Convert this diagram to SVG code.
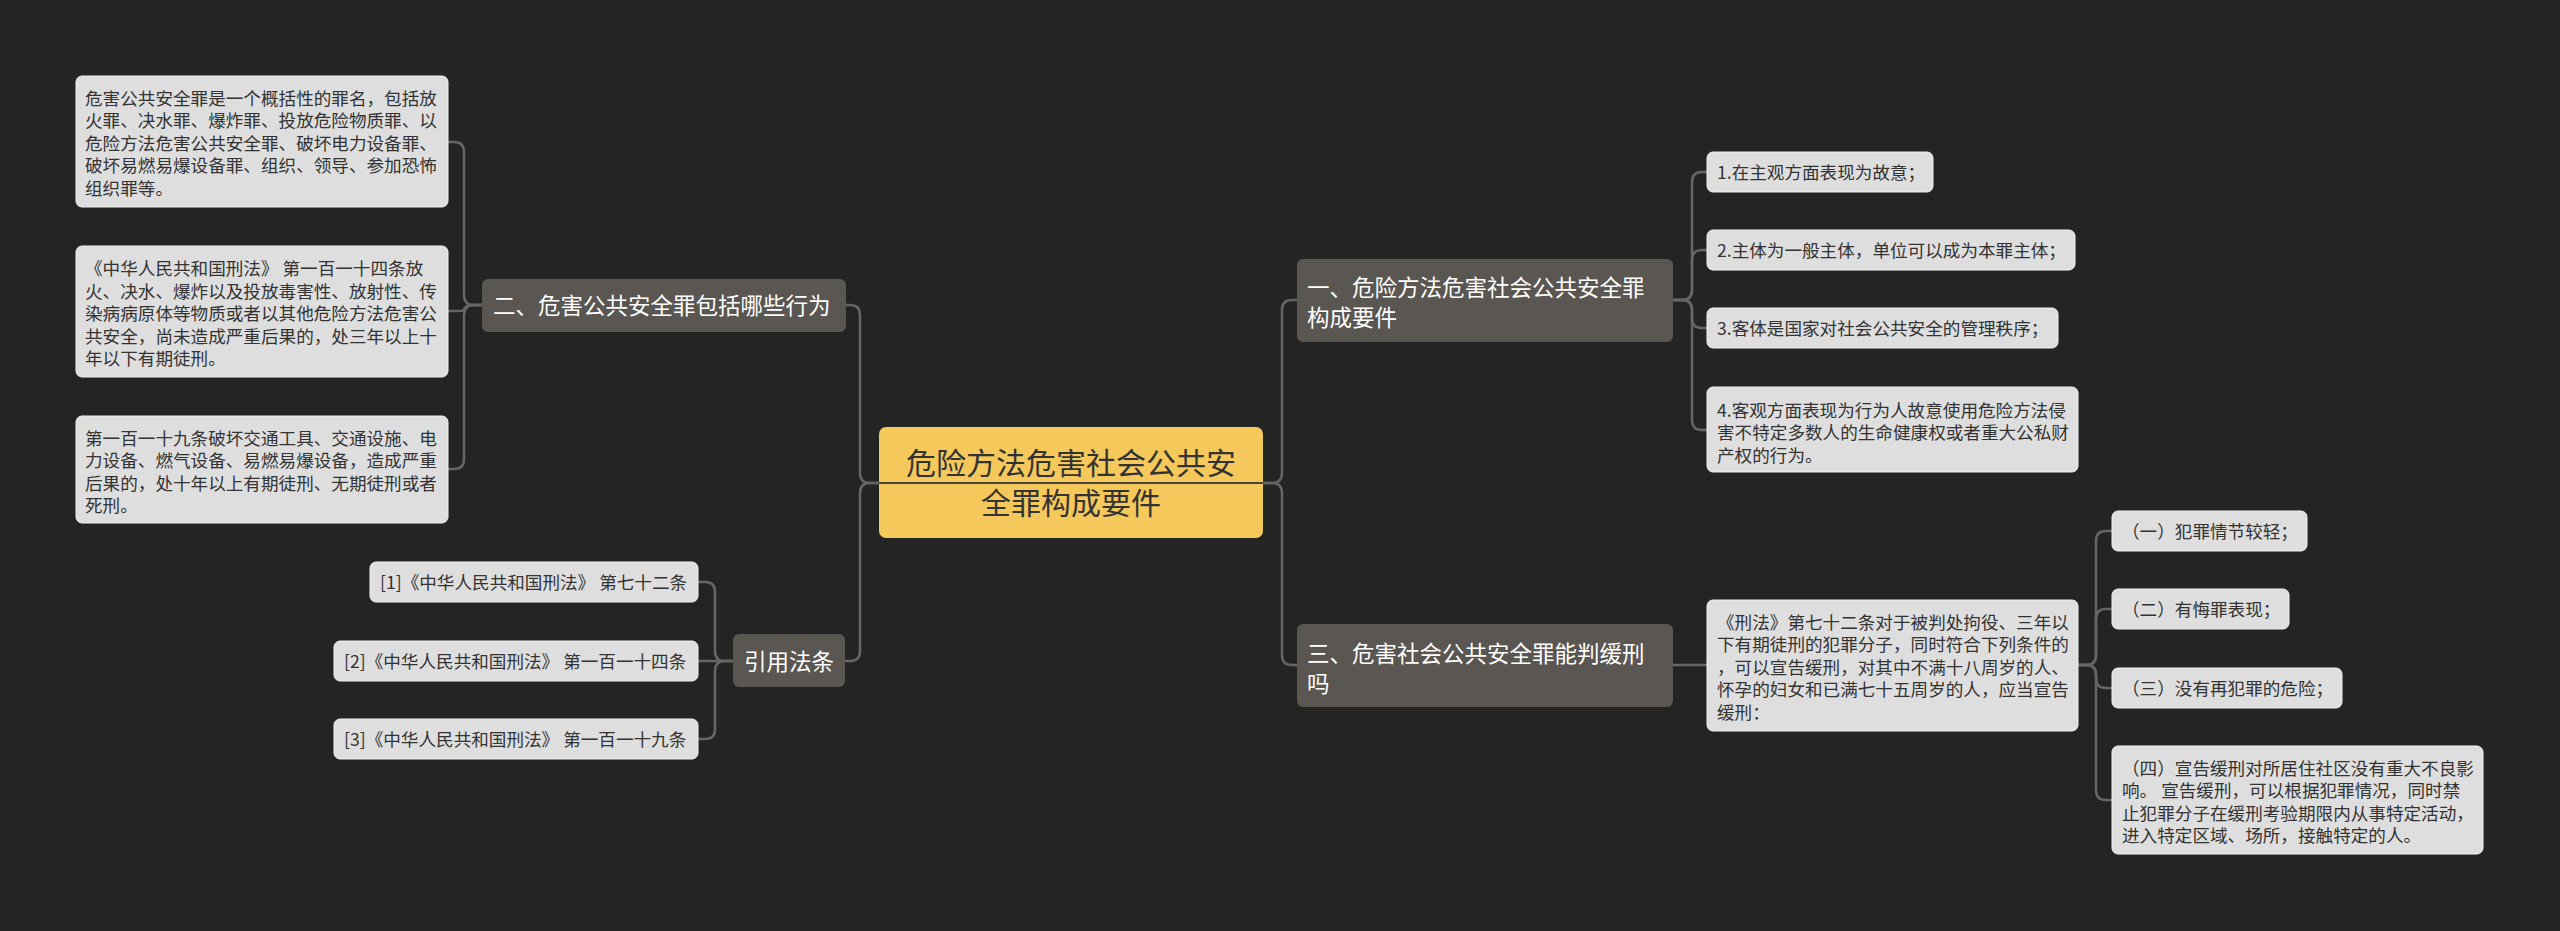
<svg xmlns="http://www.w3.org/2000/svg" width="2560" height="931" viewBox="0 0 2560 931">
<style>
.bg{fill:#242424}
.leaf rect{fill:#dedede;stroke:#f0f0f0;stroke-width:1}
.leaf text{font-family:"Noto Sans CJK SC","Noto Sans",sans-serif;font-size:17.6px;fill:#333333}
.branch rect{fill:#5a5652}
.branch text{font-family:"Noto Sans CJK SC","Noto Sans",sans-serif;font-size:22.5px;fill:#ffffff}
.root rect{fill:#f5c85b}
.root text{font-family:"Noto Sans CJK SC","Noto Sans",sans-serif;font-size:30px;fill:#333333;text-anchor:middle}
.conn path{fill:none;stroke:#666666;stroke-width:2.5}
</style>
<rect class="bg" x="0" y="0" width="2560" height="931"/>

<g id="connectors" class="conn">
  <!-- root to left branches -->
  <path d="M879,483 H870 Q860,483 860,473 V315 Q860,305 850,305 H846"/>
  <path d="M879,483 H870 Q860,483 860,493 V651 Q860,661 850,661 H845"/>
  <!-- root to right branches -->
  <path d="M1263,483 H1272 Q1282,483 1282,473 V310 Q1282,300 1292,300 H1297"/>
  <path d="M1263,483 H1272 Q1282,483 1282,493 V655 Q1282,665 1292,665 H1297"/>
  <!-- 二 to leaves -->
  <path d="M482,305 H474 Q464,305 464,295 V152 Q464,142 454,142 H448"/>
  <path d="M482,305 H474 Q464,305 464,310 Q464,311 458,311 H448"/>
  <path d="M482,305 H474 Q464,305 464,315 V459 Q464,469 454,469 H448"/>
  <!-- 引用法条 to leaves -->
  <path d="M733,661 H725 Q715,661 715,651 V592 Q715,582 705,582 H698"/>
  <path d="M733,661 H698"/>
  <path d="M733,661 H725 Q715,661 715,671 V729 Q715,739 705,739 H698"/>
  <!-- 一 to leaves -->
  <path d="M1673,300 H1682 Q1692,300 1692,290 V182 Q1692,172 1702,172 H1707"/>
  <path d="M1673,300 H1682 Q1692,300 1692,290 V260 Q1692,250 1702,250 H1707"/>
  <path d="M1673,300 H1682 Q1692,300 1692,310 V318 Q1692,328 1702,328 H1707"/>
  <path d="M1673,300 H1682 Q1692,300 1692,310 V420 Q1692,430 1702,430 H1707"/>
  <!-- 三 to leaf -->
  <path d="M1673,665 H1707"/>
  <!-- 刑法 leaf to sub leaves -->
  <path d="M2078,665 H2086 Q2096,665 2096,655 V541 Q2096,531 2106,531 H2112"/>
  <path d="M2078,665 H2086 Q2096,665 2096,655 V619 Q2096,609 2106,609 H2112"/>
  <path d="M2078,665 H2086 Q2096,665 2096,675 V678 Q2096,688 2106,688 H2112"/>
  <path d="M2078,665 H2086 Q2096,665 2096,675 V790 Q2096,800 2106,800 H2112"/>
</g>

<g id="root" class="root">
  <rect x="879" y="427" width="384" height="111" rx="7"/>
  <text x="1071" y="474">危险方法危害社会公共安</text>
  <text x="1071" y="514">全罪构成要件</text>
  <line x1="879" y1="483" x2="1263" y2="483" stroke="#4a4538" stroke-width="2"/>
</g>

<g id="b2" class="branch">
  <rect x="482" y="279" width="364" height="53" rx="6"/>
  <text x="493" y="313.5">二、危害公共安全罪包括哪些行为</text>
</g>
<g id="l2a" class="leaf">
  <rect x="76" y="76" width="372" height="131" rx="6"/>
  <text x="85"><tspan x="85" y="104.7">危害公共安全罪是一个概括性的罪名，包括放</tspan><tspan x="85" y="127.2">火罪、决水罪、爆炸罪、投放危险物质罪、以</tspan><tspan x="85" y="149.7">危险方法危害公共安全罪、破坏电力设备罪、</tspan><tspan x="85" y="172.2">破坏易燃易爆设备罪、组织、领导、参加恐怖</tspan><tspan x="85" y="194.7">组织罪等。</tspan></text>
</g>
<g id="l2b" class="leaf">
  <rect x="76" y="246" width="372" height="131" rx="6"/>
  <text x="85"><tspan x="85" y="275.2">《中华人民共和国刑法》 第一百一十四条放</tspan><tspan x="85" y="297.7">火、决水、爆炸以及投放毒害性、放射性、传</tspan><tspan x="85" y="320.2">染病病原体等物质或者以其他危险方法危害公</tspan><tspan x="85" y="342.7">共安全，尚未造成严重后果的，处三年以上十</tspan><tspan x="85" y="365.2">年以下有期徒刑。</tspan></text>
</g>
<g id="l2c" class="leaf">
  <rect x="76" y="416" width="372" height="107" rx="6"/>
  <text x="85"><tspan x="85" y="444.7">第一百一十九条破坏交通工具、交通设施、电</tspan><tspan x="85" y="467.2">力设备、燃气设备、易燃易爆设备，造成严重</tspan><tspan x="85" y="489.7">后果的，处十年以上有期徒刑、无期徒刑或者</tspan><tspan x="85" y="512.2">死刑。</tspan></text>
</g>

<g id="bref" class="branch">
  <rect x="733" y="634" width="112" height="53" rx="6"/>
  <text x="789" y="669.5" text-anchor="middle">引用法条</text>
</g>
<g id="ref1" class="leaf">
  <rect x="370" y="562" width="328" height="40" rx="6"/>
  <text x="380" y="588.7">[1]《中华人民共和国刑法》 第七十二条</text>
</g>
<g id="ref2" class="leaf">
  <rect x="334" y="641" width="364" height="40" rx="6"/>
  <text x="344" y="667.7">[2]《中华人民共和国刑法》 第一百一十四条</text>
</g>
<g id="ref3" class="leaf">
  <rect x="334" y="719" width="364" height="40" rx="6"/>
  <text x="344" y="745.7">[3]《中华人民共和国刑法》 第一百一十九条</text>
</g>

<g id="b1" class="branch">
  <rect x="1297" y="259" width="376" height="83" rx="6"/>
  <text x="1307"><tspan x="1307" y="295.5">一、危险方法危害社会公共安全罪</tspan><tspan x="1307" y="325.5">构成要件</tspan></text>
</g>
<g id="l1a" class="leaf">
  <rect x="1707" y="152" width="226" height="40" rx="6"/>
  <text x="1717" y="178.7">1.在主观方面表现为故意；</text>
</g>
<g id="l1b" class="leaf">
  <rect x="1707" y="230" width="368" height="40" rx="6"/>
  <text x="1717" y="256.7">2.主体为一般主体，单位可以成为本罪主体；</text>
</g>
<g id="l1c" class="leaf">
  <rect x="1707" y="308" width="351" height="40" rx="6"/>
  <text x="1717" y="334.7">3.客体是国家对社会公共安全的管理秩序；</text>
</g>
<g id="l1d" class="leaf">
  <rect x="1707" y="387" width="371" height="85" rx="6"/>
  <text x="1717"><tspan x="1717" y="416.7">4.客观方面表现为行为人故意使用危险方法侵</tspan><tspan x="1717" y="439.2">害不特定多数人的生命健康权或者重大公私财</tspan><tspan x="1717" y="461.7">产权的行为。</tspan></text>
</g>

<g id="b3" class="branch">
  <rect x="1297" y="624" width="376" height="83" rx="6"/>
  <text x="1307"><tspan x="1307" y="661.5">三、危害社会公共安全罪能判缓刑</tspan><tspan x="1307" y="691.5">吗</tspan></text>
</g>
<g id="l3" class="leaf">
  <rect x="1707" y="600" width="371" height="131" rx="6"/>
  <text x="1717"><tspan x="1717" y="628.7">《刑法》第七十二条对于被判处拘役、三年以</tspan><tspan x="1717" y="651.2">下有期徒刑的犯罪分子，同时符合下列条件的</tspan><tspan x="1717" y="673.7">，可以宣告缓刑，对其中不满十八周岁的人、</tspan><tspan x="1717" y="696.2">怀孕的妇女和已满七十五周岁的人，应当宣告</tspan><tspan x="1717" y="718.7">缓刑：</tspan></text>
</g>
<g id="l3a" class="leaf">
  <rect x="2112" y="511" width="195" height="40" rx="6"/>
  <text x="2122" y="537.7">（一）犯罪情节较轻；</text>
</g>
<g id="l3b" class="leaf">
  <rect x="2112" y="589" width="177" height="40" rx="6"/>
  <text x="2122" y="615.7">（二）有悔罪表现；</text>
</g>
<g id="l3c" class="leaf">
  <rect x="2112" y="668" width="230" height="40" rx="6"/>
  <text x="2122" y="694.7">（三）没有再犯罪的危险；</text>
</g>
<g id="l3d" class="leaf">
  <rect x="2112" y="746" width="371" height="108" rx="6"/>
  <text x="2122"><tspan x="2122" y="774.7">（四）宣告缓刑对所居住社区没有重大不良影</tspan><tspan x="2122" y="797.2">响。 宣告缓刑，可以根据犯罪情况，同时禁</tspan><tspan x="2122" y="819.7">止犯罪分子在缓刑考验期限内从事特定活动，</tspan><tspan x="2122" y="842.2">进入特定区域、场所，接触特定的人。</tspan></text>
</g>
</svg>
